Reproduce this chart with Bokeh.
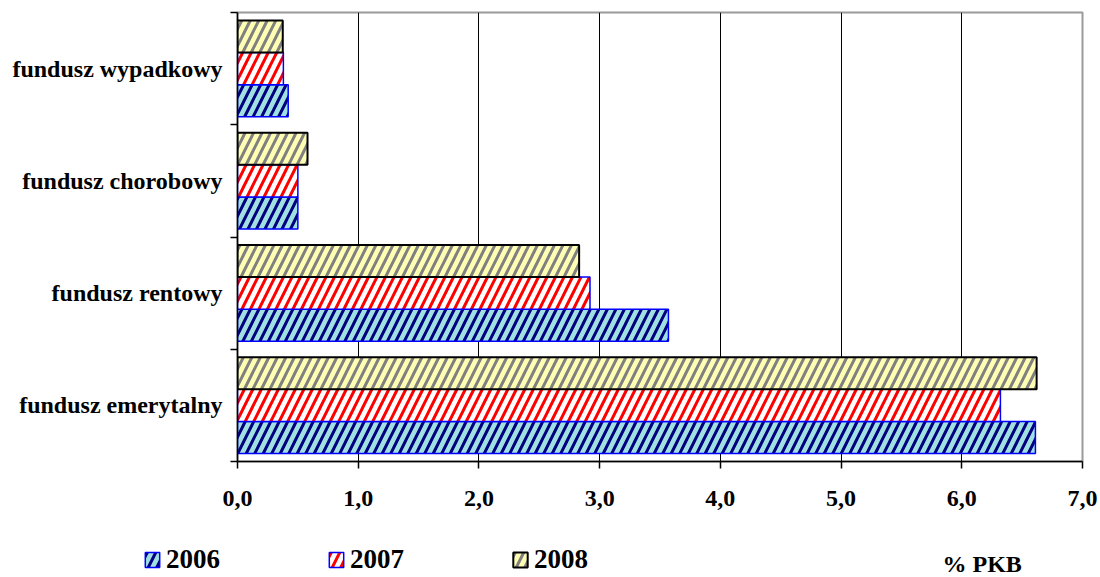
from bokeh.plotting import figure
from bokeh.layouts import column
from bokeh.models import (ColumnDataSource, Range1d, FixedTicker, Legend, LegendItem, Label)
from bokeh.transform import dodge
from bokeh.embed import file_html
from bokeh.resources import INLINE

categories = ["fundusz emerytalny", "fundusz rentowy", "fundusz chorobowy", "fundusz wypadkowy"]
years = ["2006", "2007", "2008"]
v2006 = [6.61, 3.57, 0.50, 0.42]
v2007 = [6.32, 2.92, 0.50, 0.38]
v2008 = [6.62, 2.83, 0.58, 0.375]
x_ticks = [0, 1, 2, 3, 4, 5, 6, 7]
x_tick_labels = ["0,0", "1,0", "2,0", "3,0", "4,0", "5,0", "6,0", "7,0"]
unit_label = "% PKB"

FONT = "Liberation Serif"
W = 1098

ypos = [i + 0.5 for i in range(len(categories))]
src = ColumnDataSource(dict(y=ypos, cat=categories, v2006=v2006, v2007=v2007, v2008=v2008))

p = figure(width=W, height=531, output_backend="svg", toolbar_location=None, title_location=None,
           x_range=Range1d(0, 7), y_range=Range1d(0, len(categories)),
           min_border_left=237, min_border_right=16, min_border_top=12, min_border_bottom=70)
p.background_fill_color = "white"
p.border_fill_color = "white"
p.outline_line_color = "#9a9a9a"
p.outline_line_width = 2

bar_h = 0.2857
styles = [
    dict(fill_color="#a0e0e0", hatch_color="#000080", line_color="#0000ff", line_width=1.5),
    dict(fill_color="#ffffff", hatch_color="#ff0000", line_color="#0000ff", line_width=1.5),
    dict(fill_color="#ffffb4", hatch_color="#808080", line_color="#000000", line_width=2),
]
hatch = dict(hatch_pattern="/", hatch_scale=17, hatch_weight=3)
cols = ["v2006", "v2007", "v2008"]
offsets = [-bar_h, 0.0, bar_h]
for col, off, st in zip(cols, offsets, styles):
    p.hbar(y=dodge("y", off), right=col, left=0, height=bar_h, source=src, **hatch, **st)

# x axis
xa = p.xaxis[0]
xa.ticker = FixedTicker(ticks=x_ticks)
xa.major_label_overrides = {t: l for t, l in zip(x_ticks, x_tick_labels)}
xa.major_label_text_font = FONT
xa.major_label_text_font_style = "bold"
xa.major_label_text_font_size = "24px"
xa.major_label_text_color = "black"
xa.major_label_standoff = 22
xa.major_tick_out = 7
xa.major_tick_in = 0
xa.minor_tick_line_color = None
xa.axis_line_color = "black"
xa.axis_line_width = 1.5
xa.major_tick_line_width = 1.5

# y axis: labels at band centers, ticks at band boundaries
ya = p.yaxis[0]
ya.ticker = FixedTicker(ticks=ypos, minor_ticks=list(range(len(categories) + 1)))
ya.major_label_overrides = {y: c for y, c in zip(ypos, categories)}
ya.major_label_text_font = FONT
ya.major_label_text_font_style = "bold"
ya.major_label_text_font_size = "24px"
ya.major_label_text_color = "black"
ya.major_label_standoff = 8
ya.major_tick_out = 0
ya.major_tick_in = 0
ya.major_tick_line_color = None
ya.minor_tick_out = 7
ya.minor_tick_in = 0
ya.minor_tick_line_color = "black"
ya.minor_tick_line_width = 1.5
ya.axis_line_color = "black"
ya.axis_line_width = 1.5

p.xgrid.ticker = FixedTicker(ticks=x_ticks[1:-1])
p.xgrid.grid_line_color = "black"
p.xgrid.grid_line_width = 1
p.ygrid.grid_line_color = None

# legend strip below the chart
s = figure(width=W, height=45, output_backend="svg", toolbar_location=None, title_location=None,
           x_range=Range1d(0, 1), y_range=Range1d(0, 1),
           x_axis_location=None, y_axis_location=None,
           min_border_left=0, min_border_right=0, min_border_top=0, min_border_bottom=0)
s.outline_line_color = None
s.xgrid.visible = False
s.ygrid.visible = False
s.background_fill_color = "white"
s.border_fill_color = "white"
for fig in (p, s):
    if "frame_align" in fig.properties():
        fig.frame_align = False

nan = float("nan")
proxy_src = ColumnDataSource(dict(y=[nan], r=[nan]))
proxies = [s.hbar(y="y", right="r", left=0, height=0.1, source=proxy_src, **hatch, **st) for st in styles]

legend = Legend(items=[LegendItem(label=y, renderers=[r]) for y, r in zip(years, proxies)],
                orientation="horizontal", location=(143, 1),
                glyph_width=18, glyph_height=19, label_standoff=5, spacing=107,
                padding=0, margin=0, border_line_color=None, background_fill_alpha=0,
                label_text_font=FONT, label_text_font_style="bold", label_text_font_size="27px",
                label_text_color="black")
s.add_layout(legend, "center")
s.add_layout(Label(x=942, y=13, x_units="screen", y_units="screen", text=unit_label,
                   text_font=FONT, text_font_style="bold", text_font_size="24px",
                   text_color="black", text_baseline="middle"))

layout = column(p, s, spacing=0)
open("out.html", "w").write(file_html(layout, INLINE))
